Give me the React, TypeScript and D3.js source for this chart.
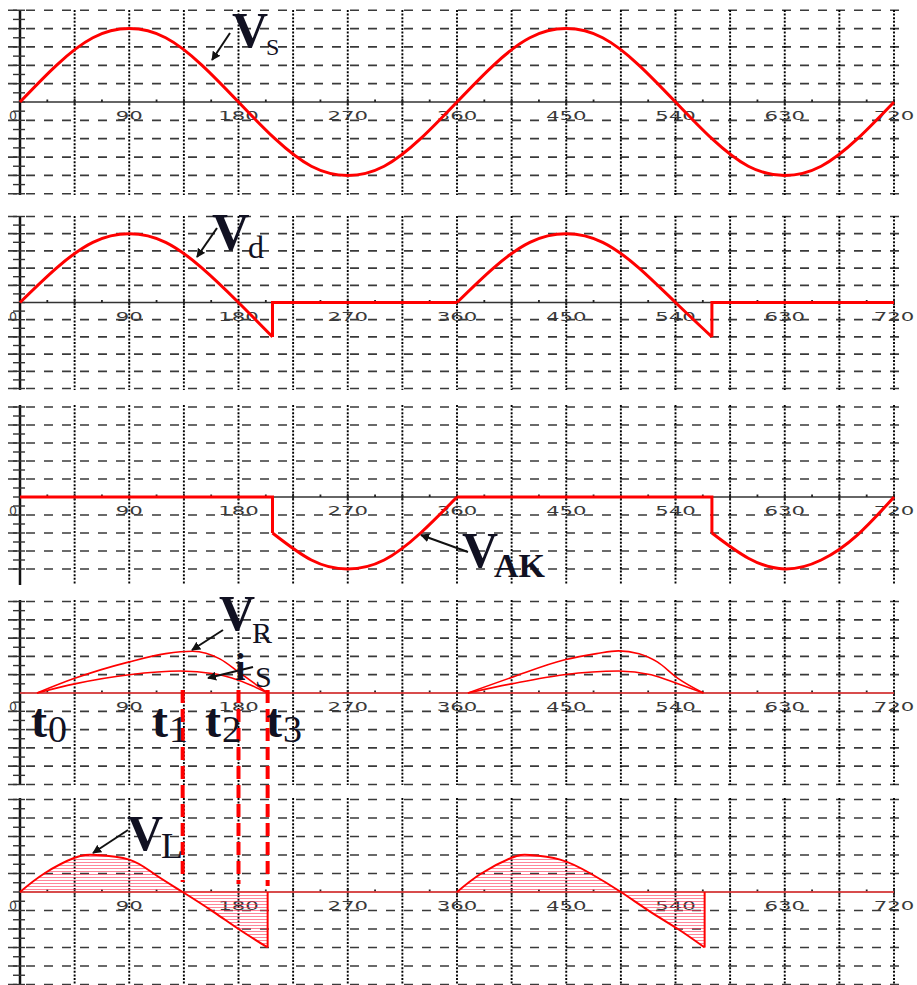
import React from 'react';
import * as d3 from 'd3';

// x axis labels (degrees)
const degTicks = [0, 90, 180, 270, 360, 450, 540, 630, 720];

// Vs - supply voltage, in grid units
const vsDeg = [0, 30, 60, 90, 120, 150, 180, 210, 240, 270, 300, 330, 360, 390, 420, 450, 480, 510, 540, 570, 600, 630, 660, 690, 720];
const vsVal = [0, 2, 3.5, 4, 3.5, 2, 0, -2, -3.5, -4, -3.5, -2, 0, 2, 3.5, 4, 3.5, 2, 0, -2, -3.5, -4, -3.5, -2, 0];

// Vd - load voltage
const vdDeg1 = [0, 30, 60, 90, 120, 150, 180, 208];
const vdVal1 = [0, 2, 3.5, 4, 3.5, 2, 0, -2];
const vdDeg2 = [360, 390, 420, 450, 480, 510, 540, 570];
const vdVal2 = [0, 2, 3.5, 4, 3.5, 2, 0, -2];

// VAK - thyristor voltage
const vakDeg1 = [208, 240, 270, 300, 330, 360];
const vakVal1 = [-2, -3.5, -4, -3.5, -2, 0];
const vakDeg2 = [570, 600, 630, 660, 690, 720];
const vakVal2 = [-2, -3.4, -4, -3.5, -2.1, 0];

// VR and iS
const vrDeg1 = [14, 45, 90, 120, 142, 165, 180, 204];
const vrVal1 = [0, 0.8, 1.7, 2.15, 2.28, 1.85, 1.15, 0];
const isDeg1 = [14, 45, 90, 132, 160, 180, 204];
const isVal1 = [0, 0.5, 1.0, 1.2, 1.05, 0.7, 0];
const vrDeg2 = [369, 405, 448, 475, 493, 510, 525, 542, 563];
const vrVal2 = [0, 0.85, 1.8, 2.15, 2.3, 2.15, 1.7, 0.8, 0];
const isDeg2 = [369, 405, 448, 493, 520, 542, 563];
const isVal2 = [0, 0.5, 1.0, 1.2, 1.0, 0.5, 0];

// VL - inductor voltage
const vlDeg1 = [0, 20, 45, 63, 90, 110, 134, 160, 180, 204];
const vlVal1 = [0, 1.0, 1.85, 2.0, 1.75, 1.0, 0, -1.1, -2.0, -3.0];
const vlDeg2 = [360, 380, 405, 420, 445, 470, 495, 520, 542, 564];
const vlVal2 = [0, 1.0, 1.85, 2.0, 1.75, 1.0, 0, -1.1, -2.0, -3.0];

// instants t0..t3
const tNames = ['0', '1', '2', '3'];
const tDeg = [14, 134, 180, 204];

type P = [number, number];
const pts = (deg: number[], val: number[]): P[] => deg.map((d, i) => [d, val[i]]);

const W = 917;
const H = 985;
const serif = '"Liberation Serif", "Times New Roman", serif';
const ink = '#111122';

const panels = [
  { zero: 102, step: 18.35, above: 5, below: 5, top: 10, bottom: 195 },
  { zero: 302.5, step: 17.2, above: 5, below: 5, top: 216, bottom: 390 },
  { zero: 497, step: 18, above: 5, below: 4, top: 405, bottom: 585 },
  { zero: 693, step: 18.3, above: 5, below: 5, top: 600, bottom: 785 },
  { zero: 892, step: 18.5, above: 5, below: 5, top: 798, bottom: 985 },
];

const x = d3.scaleLinear().domain([0, 720]).range([20, 894]);

function Grid({ p }: { p: typeof panels[0] }) {
  const ys: number[] = [];
  for (let k = -p.above; k <= p.below; k++) if (k !== 0) ys.push(p.zero + k * p.step);
  const minor: number[] = [];
  for (let k = -p.above * 2; k <= p.below * 2; k++) minor.push(p.zero + (k * p.step) / 2);
  const vDeg = d3.range(45, 721, 45);
  const minorDeg = d3.range(22.5, 720, 45);
  return (
    <g>
      {ys.map((yy, i) => (
        <line key={'h' + i} x1={8} x2={900} y1={yy} y2={yy} stroke="#3a3a3a" strokeWidth={1.7} strokeDasharray="9 9" />
      ))}
      {vDeg.map(d => (
        <line key={'v' + d} x1={x(d)} x2={x(d)} y1={p.top} y2={p.bottom} stroke="#000" strokeWidth={1.9} strokeDasharray="2 1.6" />
      ))}
      <line x1={20} x2={x(720)} y1={p.zero} y2={p.zero} stroke="#333" strokeWidth={1.6} />
      {vDeg.map(d => (
        <line key={'t' + d} x1={x(d)} x2={x(d)} y1={p.zero - 3} y2={p.zero + 3} stroke="#222" strokeWidth={1.8} />
      ))}
      {minorDeg.map(d => (
        <line key={'m' + d} x1={x(d)} x2={x(d)} y1={p.zero - 2.5} y2={p.zero} stroke="#222" strokeWidth={1.8} />
      ))}
      <line x1={20} x2={20} y1={p.top} y2={p.bottom} stroke="#111" strokeWidth={2.5} />
      {minor.map((yy, i) => (
        <line key={'y' + i} x1={13} x2={25} y1={yy} y2={yy} stroke="#333" strokeWidth={1.4} />
      ))}
      {degTicks.map(d => (
        <text
          key={'l' + d}
          x={d === 0 ? 9 : x(d) - (String(d).length * 13.5) / 2}
          y={p.zero + 18}
          fontFamily="DejaVu Sans"
          fontSize={12}
          fill="#3a3a3a"
          textLength={d === 0 ? 8 : String(d).length * 13.5}
          lengthAdjust="spacingAndGlyphs"
        >
          {d}
        </text>
      ))}
    </g>
  );
}

export default function App() {
  const yOf = (p: typeof panels[0]) => (v: number) => p.zero - v * p.step;
  const smooth = (p: typeof panels[0], data: P[], curve: d3.CurveFactory = d3.curveNatural) =>
    d3.line<P>().x(d => x(d[0])).y(d => yOf(p)(d[1])).curve(curve)(data) || '';
  const lin = (p: typeof panels[0], data: P[]) =>
    d3.line<P>().x(d => x(d[0])).y(d => yOf(p)(d[1]))(data) || '';
  const area = (p: typeof panels[0], data: P[]) =>
    d3.area<P>().x(d => x(d[0])).y0(p.zero).y1(d => yOf(p)(d[1])).curve(d3.curveNatural)(data) || '';

  const [p1, p2, p3, p4, p5] = panels;
  const mono = d3.curveMonotoneX;

  const vsPath = smooth(p1, pts(vsDeg, vsVal));
  const vdPath =
    smooth(p2, pts(vdDeg1, vdVal1)) +
    lin(p2, [[vdDeg1[vdDeg1.length - 1], -2], [vdDeg1[vdDeg1.length - 1], 0], [360, 0]]) +
    smooth(p2, pts(vdDeg2, vdVal2)) +
    lin(p2, [[vdDeg2[vdDeg2.length - 1], -2], [vdDeg2[vdDeg2.length - 1], 0], [720, 0]]);
  const vakPath =
    lin(p3, [[0, 0], [vakDeg1[0], 0], [vakDeg1[0], vakVal1[0]]]) +
    smooth(p3, pts(vakDeg1, vakVal1)) +
    lin(p3, [[360, 0], [vakDeg2[0], 0], [vakDeg2[0], vakVal2[0]]]) +
    smooth(p3, pts(vakDeg2, vakVal2));
  const vrPath = smooth(p4, pts(vrDeg1, vrVal1), mono) + smooth(p4, pts(vrDeg2, vrVal2), mono);
  const isPath = smooth(p4, pts(isDeg1, isVal1), mono) + smooth(p4, pts(isDeg2, isVal2), mono);
  const vlEnd1 = vlDeg1[vlDeg1.length - 1];
  const vlEnd2 = vlDeg2[vlDeg2.length - 1];
  const vlPath =
    smooth(p5, pts(vlDeg1, vlVal1)) +
    lin(p5, [[vlEnd1, vlVal1[vlVal1.length - 1]], [vlEnd1, 0]]) +
    smooth(p5, pts(vlDeg2, vlVal2)) +
    lin(p5, [[vlEnd2, vlVal2[vlVal2.length - 1]], [vlEnd2, 0]]);
  const vlFill = area(p5, pts(vlDeg1, vlVal1)) + area(p5, pts(vlDeg2, vlVal2));

  const arrows: [number, number, number, number][] = [
    [230, 33, 212, 60],
    [217, 228, 197, 257],
    [468, 552, 421, 535],
    [223, 630, 192, 650],
    [253, 667, 208, 678],
    [128, 830, 93, 853],
  ];

  return (
    <svg width={W} height={H} style={{ position: 'absolute', left: 0, top: 0, background: '#fff' }}>
      <defs>
        <pattern id="hatch" width={4} height={3} patternUnits="userSpaceOnUse">
          <line x1={0} x2={4} y1={1.5} y2={1.5} stroke="#f35" strokeOpacity={0.6} strokeWidth={1} />
        </pattern>
        <marker id="ah" viewBox="0 0 10 10" refX={9} refY={5} markerWidth={4.5} markerHeight={4.5} orient="auto">
          <path d="M0,0 L10,5 L0,10 z" fill="#111" />
        </marker>
      </defs>
      <rect width={W} height={H} fill="#fff" />
      {panels.map((p, i) => (
        <Grid key={i} p={p} />
      ))}

      {/* traces */}
      <path d={vsPath} fill="none" stroke="#f00" strokeWidth={3} />
      <path d={vdPath} fill="none" stroke="#f00" strokeWidth={3} />
      <path d={vakPath} fill="none" stroke="#f00" strokeWidth={3} />
      <line x1={20} x2={x(720)} y1={p4.zero} y2={p4.zero} stroke="#f44" strokeWidth={1.5} />
      <path d={vrPath} fill="none" stroke="#f00" strokeWidth={1.6} />
      <path d={isPath} fill="none" stroke="#f00" strokeWidth={1.6} />
      <path d={vlFill} fill="url(#hatch)" stroke="none" />
      <line x1={20} x2={x(720)} y1={p5.zero} y2={p5.zero} stroke="#f44" strokeWidth={1.5} />
      <path d={vlPath} fill="none" stroke="#f00" strokeWidth={2} />

      {/* dashed markers t1..t3 */}
      {tDeg.slice(1).map((d, i) => (
        <line key={'td' + i} x1={x(d)} x2={x(d)} y1={p4.zero - 3} y2={p5.zero - 10 + i * 2} stroke="#f00" strokeWidth={4} strokeDasharray="13 6" />
      ))}

      {/* arrows */}
      {arrows.map((a, i) => (
        <line key={'a' + i} x1={a[0]} y1={a[1]} x2={a[2]} y2={a[3]} stroke="#111" strokeWidth={2} markerEnd="url(#ah)" />
      ))}

      {/* labels */}
      <g fontFamily={serif} fill={ink}>
        <text x={232} y={47} fontSize={50} fontWeight="bold">V</text>
        <text x={266} y={55} fontSize={24}>S</text>
        <text x={212} y={250} fontSize={52} fontWeight="bold">V</text>
        <text x={248} y={258} fontSize={32}>d</text>
        <text x={462} y={567} fontSize={50} fontWeight="bold">V</text>
        <text x={494} y={577} fontSize={34} fontWeight="bold">AK</text>
        <text x={219} y={630} fontSize={50} fontWeight="bold">V</text>
        <text x={252} y={643} fontSize={30}>R</text>
        <text x={235} y={680} fontSize={38} fontWeight="bold">i</text>
        <text x={255} y={687} fontSize={30}>S</text>
        <text x={127} y={850} fontSize={50} fontWeight="bold">V</text>
        <text x={161} y={858} fontSize={36}>L</text>
        {tDeg.map((d, i) => {
          const tx = [31, 152, 205, 266][i];
          return (
            <g key={'tl' + i}>
              <text x={tx} y={737} fontSize={48} fontWeight="bold">t</text>
              <text x={tx + 17} y={742} fontSize={38}>{tNames[i]}</text>
            </g>
          );
        })}
      </g>
    </svg>
  );
}
